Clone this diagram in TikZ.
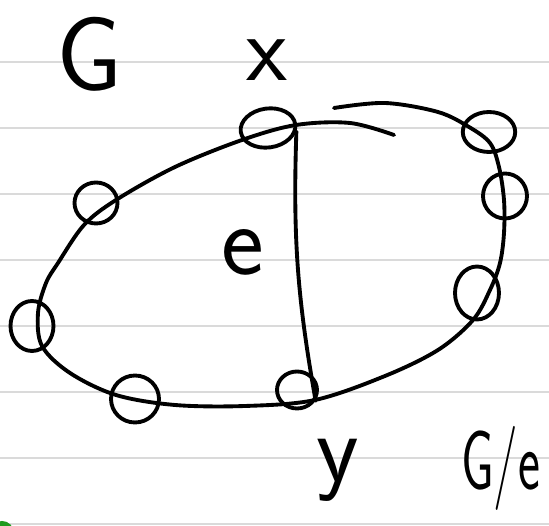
\documentclass[tikz,border=0pt]{standalone}
\usepackage{fontspec}
\usetikzlibrary{shapes.geometric}
\definecolor{ink}{HTML}{000000}
\definecolor{rule}{HTML}{DADADA}
\definecolor{green}{HTML}{1E9A1E}
\tikzset{vtx/.style={ellipse,draw=ink,line width=2.2pt,minimum width=.9cm,minimum height=.74cm,inner sep=0pt},
 hand/.style={font=\sffamily\fontsize{#1}{#1}\selectfont,inner sep=0pt}}
\begin{document}
\begin{tikzpicture}[x=.02cm,y=-.02cm,line width=2.2pt,line cap=round,line join=round]
\useasboundingbox (0,0) rectangle (549,526);
\fill[white] (0,0) rectangle (549,526);
\foreach \y in {62,128,...,524}{\draw[rule,line width=1.1pt] (0,\y)--(549,\y);}
\fill[green] (2,533) circle (12);
% labels
\node[hand=60] (G) at (90,54){G};
\node[hand=54] (xl) at (267,60){x};
\node[hand=58] (el) at (243,252){e};
\node[hand=56] (yl) at (338,470){y};
\node[hand=48,xscale=.62,anchor=west] (Ge) at (460,468){G/e};
% outline of G
\draw plot[smooth,tension=.55] coordinates {(334,108) (385,103) (438,112) (469,127) (490,143) (499,167) (504,200) (504,233) (500,263) (490,290) (473,320) (438,350) (385,376) (315,400) (245,406) (175,405) (116,395) (70,373) (42,346) (38,313) (46,283) (58,263) (84,225) (116,200) (175,167) (242,140) (296,125) (350,123) (394,135)};
% vertices
\node[vtx,minimum width=1.1cm,minimum height=.78cm,rotate=8] (x) at (268,128){};
\node[vtx,minimum width=1.05cm,minimum height=.8cm] (r1) at (489,132){};
\node[vtx,minimum width=.88cm,minimum height=.9cm] (r2) at (505,196){};
\node[vtx,minimum width=.88cm,minimum height=1.06cm] (r3) at (477,293){};
\node[vtx,minimum width=.86cm,minimum height=.82cm] (l1) at (96,203){};
\node[vtx,minimum width=.86cm,minimum height=1cm] (l2) at (32,326){};
\node[vtx,minimum width=.96cm,minimum height=.94cm] (l3) at (135,399){};
\node[vtx,minimum width=.8cm,minimum height=.74cm] (y) at (297,390){};
% the edge e
\draw (x.-15) to[bend right=6] (y.-30);
\end{tikzpicture}
\end{document}
